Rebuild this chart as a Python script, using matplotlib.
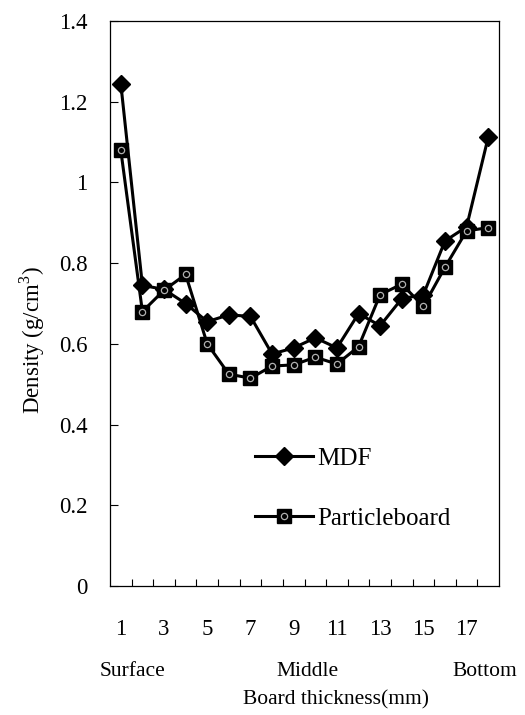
import numpy as np
import matplotlib
matplotlib.use("Agg")
import matplotlib.pyplot as plt

# data
layers = np.arange(1, 19)
mdf = [1.245, 0.745, 0.735, 0.70, 0.655, 0.672, 0.668, 0.575, 0.59, 0.615,
       0.59, 0.675, 0.645, 0.712, 0.722, 0.855, 0.89, 1.112]
particleboard = [1.08, 0.68, 0.733, 0.772, 0.60, 0.525, 0.515, 0.545, 0.548, 0.567,
                 0.55, 0.593, 0.722, 0.748, 0.693, 0.79, 0.88, 0.888]
tick_labels = ["1", "3", "5", "7", "9", "11", "13", "15", "17"]
positions = ["Surface", "Middle", "Bottom"]
position_x = [1.55, 9.65, 17.85]

plt.rcParams["font.family"] = ["Liberation Serif", "DejaVu Serif"]
plt.rcParams["mathtext.fontset"] = "custom"
plt.rcParams["mathtext.rm"] = "Liberation Serif"

fig = plt.figure(figsize=(5.25, 7.15), dpi=100)
ax = fig.add_axes([0.2095, 0.1804, 0.741, 0.7902])

l1, = ax.plot(layers, mdf, color="black", lw=2.2, marker="D", ms=8.8,
              mfc="black", mec="black", zorder=3)
l2, = ax.plot(layers, particleboard, color="black", lw=2.2, marker="s", ms=10,
              mfc="black", mec="black", zorder=3)
# light speckle inside the square markers
l3, = ax.plot(layers, particleboard, ls="none", marker="o", ms=4.5, mfc="none",
              mec="#b0b0b0", mew=0.9, zorder=4)

ax.set_xlim(0.5, 18.5)
ax.set_ylim(0, 1.4)
ax.set_yticks(np.arange(0, 1.41, 0.2))
ax.set_yticklabels(["0", "0.2", "0.4", "0.6", "0.8", "1", "1.2", "1.4"])
ax.set_xticks(np.arange(1, 18, 2))
ax.set_xticklabels(tick_labels)
ax.set_xticks(np.arange(1.5, 18, 1), minor=True)
ax.tick_params(axis="y", direction="in", length=6, width=0.8, pad=16, labelsize=16.5)
ax.tick_params(axis="x", which="major", length=0, pad=24, labelsize=16.5)
ax.tick_params(axis="x", which="minor", direction="in", length=5, width=0.8)
for s in ax.spines.values():
    s.set_linewidth(0.9)

for name, px in zip(positions, position_x):
    ax.text(px, -0.152, name, transform=ax.get_xaxis_transform(),
            ha="center", va="center", fontsize=15.5)
fig.text(0.64, 0.021, "Board thickness(mm)", ha="center", va="center", fontsize=15.5)
fig.text(0.061, 0.524, "Density (g/cm$^3$)", rotation=90, ha="center", va="center",
         fontsize=16.5)

ax.legend([l1, (l2, l3)], ["MDF", "Particleboard"], loc="upper left",
          bbox_to_anchor=(0.315, 0.285), frameon=False, fontsize=18,
          handlelength=2.3, handletextpad=0.2, labelspacing=1.5)

fig.savefig("out.png", dpi=100)
